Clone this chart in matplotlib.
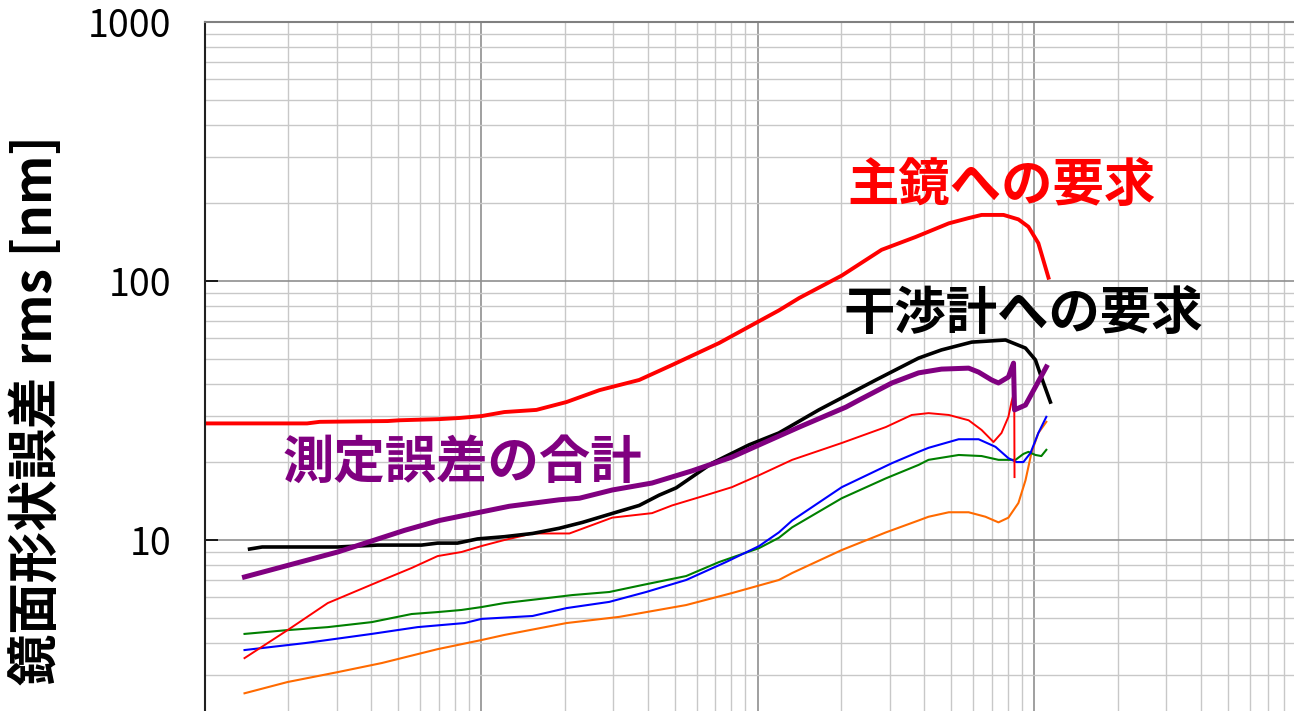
import matplotlib
matplotlib.use("Agg")
import matplotlib.pyplot as plt
from matplotlib.ticker import LogLocator, NullFormatter

plt.rcParams['font.family'] = ['Noto Sans CJK JP', 'DejaVu Sans']

# 主鏡への要求
mirror_x = [1.0, 2.34, 2.60, 4.58, 5.06, 7.05, 8.33, 10.0, 12.1, 15.8, 20.3, 26.7, 37.2,
            48.9, 72.3, 95.1, 119, 141, 201, 280, 372, 490, 578, 644, 773, 875, 951, 1033, 1124]
mirror_y = [28.2, 28.2, 28.6, 28.8, 29.0, 29.3, 29.6, 30.1, 31.2, 31.8, 34.1, 37.9, 41.5,
            47.4, 57.6, 67.6, 77.0, 86.0, 105, 132, 148, 167, 175, 180, 180, 173, 162, 140, 103]

# 干渉計への要求
interf_x = [1.45, 1.61, 3.02, 4.21, 6.07, 6.94, 8.19, 9.68, 12.1, 15.3, 19.1, 23.2, 30.7, 37.2,
            43.9, 50.6, 68.2, 92.8, 119, 166, 267, 381, 461, 593, 786, 928, 1008, 1059, 1142]
interf_y = [9.23, 9.40, 9.40, 9.56, 9.56, 9.73, 9.73, 10.1, 10.3, 10.6, 11.1, 11.7, 12.8, 13.6,
            14.9, 15.9, 19.8, 23.3, 25.9, 31.8, 41.5, 50.4, 54.2, 58.1, 59.2, 55.1, 49.6, 42.6, 34.1]

# 測定誤差の合計
total_x = [1.39, 3.02, 5.27, 7.05, 12.6, 19.1, 22.6, 29.7, 41.4, 57.8, 80.5, 101, 141, 208,
           232, 305, 381, 461, 578, 628, 700, 741, 805, 840, 847, 928, 1008, 1104]
total_y = [7.20, 8.99, 10.9, 11.9, 13.5, 14.3, 14.5, 15.6, 16.6, 18.5, 20.9, 23.3, 27.3, 32.6,
           34.7, 40.4, 44.2, 45.7, 46.1, 44.5, 41.5, 40.4, 42.6, 48.2, 31.8, 33.2, 39.0, 46.6]

# 各誤差要因
red_x = [1.39, 1.99, 2.78, 4.21, 5.59, 6.94, 8.47, 10.0, 12.1, 15.3, 20.8, 29.7, 41.4, 48.9,
         64.9, 80.5, 101, 133, 201, 290, 360, 414, 490, 578, 644, 711, 760, 805, 826, 845, 847]
red_y = [3.50, 4.49, 5.71, 6.88, 7.80, 8.67, 8.99, 9.48, 10.0, 10.6, 10.6, 12.2, 12.7, 13.6,
         14.9, 16.0, 17.8, 20.4, 23.7, 27.3, 30.4, 30.9, 30.4, 29.0, 26.6, 23.9, 25.9, 29.9, 34.1,
         37.3, 17.5]

blue_x = [1.39, 2.30, 4.01, 5.87, 8.68, 10.0, 15.3, 20.3, 29.0, 39.4, 55.0, 76.6, 101, 119,
          133, 201, 305, 381, 414, 532, 628, 723, 805, 861, 912, 968, 1033, 1104]
blue_y = [3.76, 4.00, 4.34, 4.61, 4.78, 4.96, 5.09, 5.46, 5.77, 6.30, 7.01, 8.22, 9.48, 10.7,
          11.9, 16.0, 19.8, 21.9, 22.7, 24.5, 24.5, 22.9, 20.7, 20.0, 20.0, 21.7, 25.9, 29.9]

green_x = [1.39, 1.99, 2.78, 4.01, 5.59, 6.94, 8.47, 10.0, 12.1, 16.2, 21.3, 29.0, 38.1, 55.0,
           72.3, 101, 119, 133, 201, 290, 381, 414, 532, 644, 741, 854, 912, 951, 1008, 1059, 1104]
green_y = [4.34, 4.49, 4.61, 4.82, 5.18, 5.27, 5.37, 5.51, 5.71, 5.92, 6.13, 6.30, 6.70, 7.26,
           8.22, 9.31, 10.2, 11.2, 14.5, 17.3, 19.5, 20.4, 21.3, 21.1, 20.4, 20.4, 21.5, 21.9,
           21.3, 21.1, 22.3]

orange_x = [1.39, 1.99, 3.02, 4.36, 6.94, 10.0, 12.1, 20.3, 31.5, 55.0, 80.5, 119, 133, 201,
            290, 381, 414, 490, 578, 665, 741, 805, 875, 928, 975, 1033, 1104]
orange_y = [2.56, 2.83, 3.09, 3.35, 3.79, 4.11, 4.30, 4.78, 5.05, 5.61, 6.24, 7.01, 7.46, 9.15,
            10.7, 11.9, 12.3, 12.8, 12.8, 12.3, 11.7, 12.2, 13.9, 17.0, 21.7, 25.9, 28.6]

y_ticks = [10, 100, 1000]
y_ticklabels = ['10', '100', '1000']

fig = plt.figure(figsize=(12.94, 7.11), dpi=100)
ax = fig.add_axes([0.1584, -0.1238, 0.8547, 1.0928])
ax.set_xscale('log')
ax.set_yscale('log')
ax.set_xlim(1, 10000)
ax.set_ylim(1, 1000)

ax.grid(True, which='major', color='#8f8f8f', lw=1.2)
ax.grid(True, which='minor', color='#c8c8c8', lw=1.0)
ax.set_axisbelow(True)
ax.xaxis.set_minor_locator(LogLocator(base=10, subs=range(2, 10)))
ax.yaxis.set_minor_locator(LogLocator(base=10, subs=range(2, 10)))
ax.xaxis.set_minor_formatter(NullFormatter())
ax.yaxis.set_minor_formatter(NullFormatter())
ax.set_xticklabels([])
ax.tick_params(axis='x', which='both', length=0)
ax.set_yticks(y_ticks)
ax.set_yticklabels(y_ticklabels)
ax.tick_params(axis='y', which='major', direction='in', length=9.5, width=1.2,
               labelsize=27, pad=24)
ax.tick_params(axis='y', which='minor', length=0)

for s in ax.spines.values():
    s.set_color('#808080')
    s.set_linewidth(1.5)
ax.spines['left'].set_color('#202020')

ax.plot(orange_x, orange_y, color='#ff6a00', lw=1.5)
ax.plot(green_x, green_y, color='#008000', lw=1.5)
ax.plot(blue_x, blue_y, color='#0000ff', lw=1.5)
ax.plot(red_x, red_y, color='#ff0000', lw=1.4)
ax.plot(interf_x, interf_y, color='black', lw=2.6)
ax.plot(total_x, total_y, color='#800080', lw=3.6)
ax.plot(mirror_x, mirror_y, color='#ff0000', lw=2.8)

ax.text(210, 235, '主鏡への要求', color='#ff0000', fontsize=37, fontweight='bold',
        ha='left', va='center')
ax.text(204, 75.2, '干渉計への要求', color='black', fontsize=37, fontweight='bold',
        ha='left', va='center')
ax.text(1.91, 20.0, '測定誤差の合計', color='#800080', fontsize=37, fontweight='bold',
        ha='left', va='center')

ax.set_ylabel('鏡面形状誤差 rms [nm]', fontsize=37, fontweight='bold')
ax.yaxis.set_label_coords(-0.128, 0.5)

fig.savefig('out.png', dpi=100)
